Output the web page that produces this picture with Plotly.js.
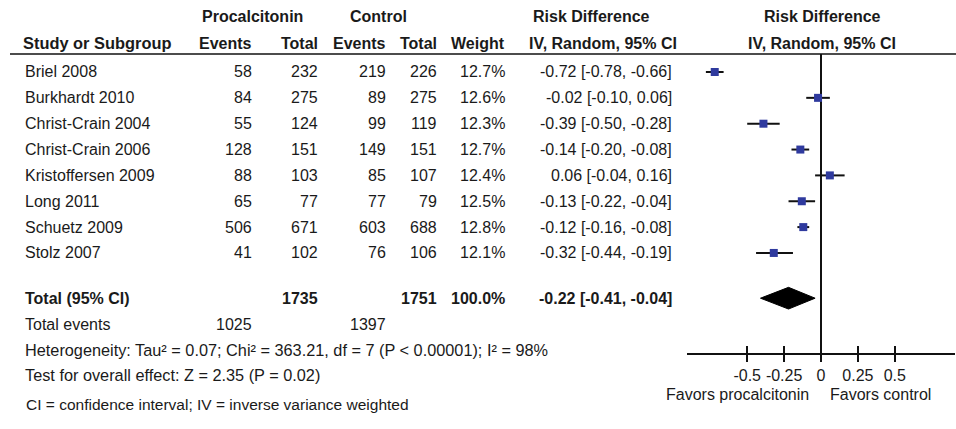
<!DOCTYPE html>
<html>
<head>
<meta charset="utf-8">
<script src="https://cdn.plot.ly/plotly-3.0.1.min.js"></script>
<style>html,body{margin:0;padding:0;background:#fff;}#chart{width:956px;height:429px;}</style>
</head>
<body>
<div id="chart"></div>
<script>
// ---- data ----
var studies = ["Briel 2008","Burkhardt 2010","Christ-Crain 2004","Christ-Crain 2006","Kristoffersen 2009","Long 2011","Schuetz 2009","Stolz 2007"];
var procEvents = [58, 84, 55, 128, 88, 65, 506, 41];
var procTotal  = [232, 275, 124, 151, 103, 77, 671, 102];
var ctrlEvents = [219, 89, 99, 149, 85, 77, 603, 76];
var ctrlTotal  = [226, 275, 119, 151, 107, 79, 688, 106];
var weights    = ["12.7%","12.6%","12.3%","12.7%","12.4%","12.5%","12.8%","12.1%"];
var rd = [-0.72, -0.02, -0.39, -0.14, 0.06, -0.13, -0.12, -0.32];
var lo = [-0.78, -0.10, -0.50, -0.20, -0.04, -0.22, -0.16, -0.44];
var hi = [-0.66, 0.06, -0.28, -0.08, 0.16, -0.04, -0.08, -0.19];
var totalProc = 1735, totalCtrl = 1751, totalWeight = "100.0%";
var totalRd = -0.22, totalLo = -0.41, totalHi = -0.04;
var eventsProc = 1025, eventsCtrl = 1397;
var tickVals = [-0.5, -0.25, 0, 0.25, 0.5];
var tickText = ["-0.5", "-0.25", "0", "0.25", "0.5"];
var heterogeneity = "Heterogeneity: Tau² = 0.07; Chi² = 363.21, df = 7 (P < 0.00001); I² = 98%";
var overallTest = "Test for overall effect: Z = 2.35 (P = 0.02)";
var footnote = "CI = confidence interval; IV = inverse variance weighted";

// ---- layout helpers ----
var W = 956, H = 429;
var FONT = "Liberation Sans, Arial, Helvetica, sans-serif";
var TXT = "#1a1a1a";
var ROW0 = 72, ROWH = 25.85;
var rowPx = function (i) { return ROW0 + ROWH * i; };
var TOTAL_ROW = 8.75;
var plotTop = 54, plotBot = 353;

function fmtCI(r, l, h) {
  return r.toFixed(2) + " [" + l.toFixed(2) + ", " + h.toFixed(2) + "]";
}
var anns = [];
function ann(text, xpx, ypx, anchor, opts) {
  opts = opts || {};
  var t = opts.bold ? "<b>" + text + "</b>" : text;
  anns.push({
    text: t, xref: "paper", yref: "paper",
    x: xpx / W, y: 1 - ypx / H,
    xanchor: anchor, yanchor: "middle", showarrow: false,
    font: {family: FONT, size: opts.size || 16, color: TXT},
    borderpad: 0
  });
}

// headers
ann("Procalcitonin", 252, 17, "center", {bold: true});
ann("Control", 378, 17, "center", {bold: true});
ann("Risk Difference", 591, 17, "center", {bold: true});
ann("Risk Difference", 822, 17, "center", {bold: true});
ann("Study or Subgroup", 22, 43, "left", {bold: true, size: 16.4});
ann("Events", 253, 43, "right", {bold: true});
ann("Total", 319, 43, "right", {bold: true});
ann("Events", 387, 43, "right", {bold: true});
ann("Total", 438, 43, "right", {bold: true});
ann("Weight", 506, 43, "right", {bold: true});
ann("IV, Random, 95% CI", 603, 43, "center", {bold: true});
ann("IV, Random, 95% CI", 822, 43, "center", {bold: true});

// study rows
for (var i = 0; i < studies.length; i++) {
  var y = rowPx(i);
  ann(studies[i], 24, y, "left");
  ann(String(procEvents[i]), 253, y, "right");
  ann(String(procTotal[i]), 319, y, "right");
  ann(String(ctrlEvents[i]), 387, y, "right");
  ann(String(ctrlTotal[i]), 438, y, "right");
  ann(weights[i], 506, y, "right");
  ann(fmtCI(rd[i], lo[i], hi[i]), 673, y, "right");
}
// total rows
var ty = rowPx(TOTAL_ROW);
ann("Total (95% CI)", 24, ty, "left", {bold: true});
ann(String(totalProc), 319, ty, "right", {bold: true});
ann(String(totalCtrl), 438, ty, "right", {bold: true});
ann(totalWeight, 506, ty, "right", {bold: true});
ann(fmtCI(totalRd, totalLo, totalHi), 673, ty, "right", {bold: true});
ann("Total events", 24, 324, "left");
ann(String(eventsProc), 253, 324, "right");
ann(String(eventsCtrl), 387, 324, "right");
ann(heterogeneity, 24, 350, "left", {size: 16.3});
ann(overallTest, 24, 375, "left", {size: 16.3});
ann(footnote, 25, 404, "left", {size: 15.5});
ann("Favors procalcitonin", 737, 394, "center");
ann("Favors control", 880, 394, "center");

var rowIdx = studies.map(function (_, k) { return k; });

var traces = [
  {
    type: "scatter", mode: "markers", x: rd, y: rowIdx,
    marker: {symbol: "square", size: 8, color: "#2f3a9e"},
    error_x: {
      type: "data", symmetric: false,
      array: hi.map(function (h, k) { return h - rd[k]; }),
      arrayminus: lo.map(function (l, k) { return rd[k] - l; }),
      color: "#111", thickness: 2, width: 0
    },
    hoverinfo: "skip", cliponaxis: false
  },
  {
    type: "scatter", mode: "lines",
    x: [totalLo, totalRd, totalHi, totalRd, totalLo],
    y: [TOTAL_ROW, TOTAL_ROW - 0.42, TOTAL_ROW, TOTAL_ROW + 0.42, TOTAL_ROW],
    fill: "toself", fillcolor: "#000", line: {color: "#000", width: 1},
    hoverinfo: "skip"
  },
  {
    type: "scatter", mode: "markers", x: [totalRd], y: [TOTAL_ROW],
    xaxis: "x2", yaxis: "y", marker: {opacity: 0}, hoverinfo: "skip"
  }
];

var xDom = [687 / W, 955 / W];
var xRange = [-0.908, 0.908];
var layout = {
  width: W, height: H,
  margin: {l: 0, r: 0, t: 0, b: 0},
  paper_bgcolor: "#fff", plot_bgcolor: "rgba(0,0,0,0)",
  showlegend: false,
  font: {family: FONT, size: 16, color: TXT},
  xaxis: {
    domain: xDom, range: xRange, anchor: "y",
    showgrid: false, zeroline: true, zerolinecolor: "#111", zerolinewidth: 1.5,
    showline: true, linecolor: "#111", linewidth: 1.5,
    ticks: "outside", ticklen: 7, tickwidth: 1.5, tickcolor: "#111",
    tickvals: tickVals, ticktext: tickText,
    tickfont: {family: FONT, size: 16, color: TXT}, fixedrange: true
  },
  xaxis2: {
    domain: xDom, range: xRange, overlaying: "x", anchor: "y", side: "bottom",
    showgrid: false, zeroline: false, showline: false,
    ticks: "inside", ticklen: 7, tickwidth: 1.5, tickcolor: "#111",
    tickvals: tickVals, showticklabels: false, fixedrange: true
  },
  yaxis: {
    domain: [1 - plotBot / H, 1 - plotTop / H],
    range: [(plotBot - ROW0) / ROWH, (plotTop - ROW0) / ROWH],
    visible: false, showgrid: false, zeroline: false, fixedrange: true
  },
  shapes: [
    {type: "line", xref: "paper", yref: "paper", x0: 10 / W, x1: 1, y0: 1 - plotTop / H, y1: 1 - plotTop / H,
     line: {color: "#111", width: 1.5}}
  ],
  annotations: anns
};

Plotly.newPlot("chart", traces, layout, {displayModeBar: false, staticPlot: true});
</script>
</body>
</html>
